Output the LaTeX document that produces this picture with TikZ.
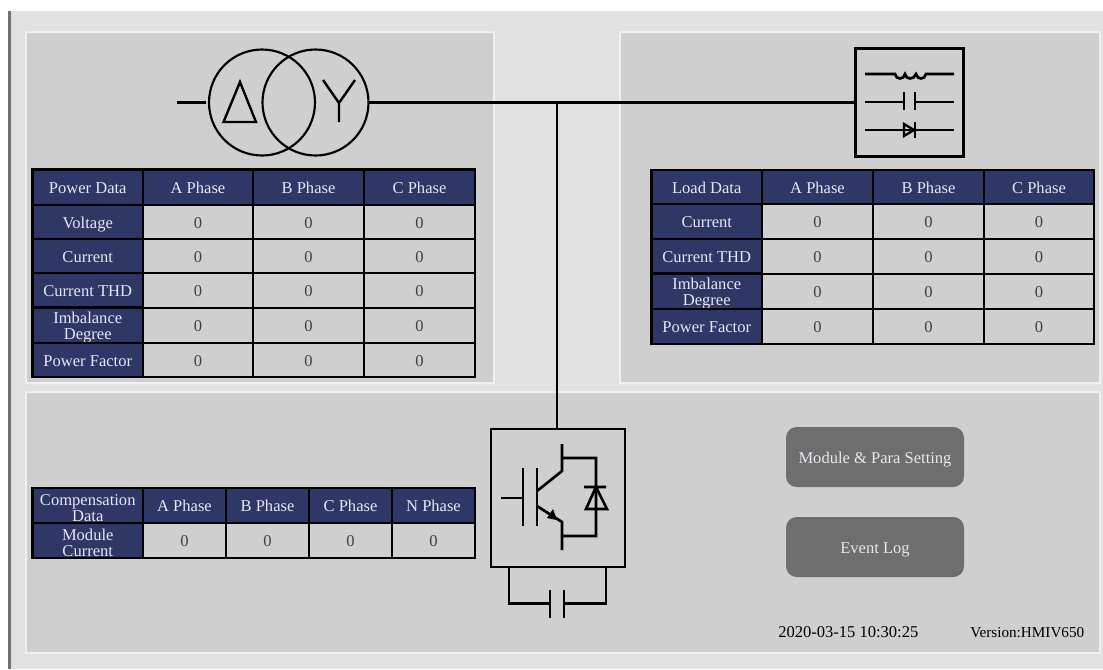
\documentclass[tikz,border=0pt]{standalone}
\usepackage{fontspec}
\setmainfont{Liberation Serif}
\usetikzlibrary{shapes.geometric}
\definecolor{pagebg}{HTML}{E1E1E1}
\definecolor{panelbg}{HTML}{CFCFCF}
\definecolor{panelline}{HTML}{F0F0F0}
\definecolor{headbg}{HTML}{2F3767}
\definecolor{headtxt}{HTML}{E6E8F0}
\definecolor{valtxt}{HTML}{404040}
\definecolor{btnbg}{HTML}{6E6E6E}
\definecolor{barcol}{HTML}{707070}
\newcommand{\pxfont}{\fontsize{12.4pt}{12pt}\selectfont}
\newcommand{\lowstrut}{\rule{0pt}{12.2pt}\vphantom{g}}
\tikzset{
  panelbox/.style={fill=panelbg,draw=panelline,line width=1.2pt},
  cellbase/.style={draw=black,line width=2pt,inner sep=0pt,outer sep=0pt,align=center,font=\pxfont},
  headcell/.style={cellbase,fill=headbg,text=headtxt},
  valcell/.style={cellbase,fill=panelbg,text=valtxt},
  sym/.style={draw=black,line width=2pt,line join=miter},
  wire/.style={draw=black,line width=2.1pt},
  symbox/.style={draw=black,line width=2pt,fill=none,inner sep=0pt,outer sep=0pt},
  coil/.style={draw=black,line width=1.6pt,circle,inner sep=0pt,outer sep=0pt,minimum size=79.5pt},
  btn/.style={fill=btnbg,rounded corners=8pt,text=headtxt,font=\pxfont,inner sep=0pt,minimum width=133.5pt,minimum height=45pt},
  plain/.style={font=\pxfont,text=black,inner sep=0pt}
}
\newcommand{\hc}[6]{\pgfmathsetmacro\cw{(#3-#2)*0.75}\pgfmathsetmacro\ch{(#5-#4)*0.75}%
  \node[headcell,minimum width=\cw pt,minimum height=\ch pt] (#1) at ({(#2+#3)/2},{(#4+#5)/2}) {\lowstrut#6};}
\newcommand{\vc}[6]{\pgfmathsetmacro\cw{(#3-#2)*0.75}\pgfmathsetmacro\ch{(#5-#4)*0.75}%
  \node[valcell,minimum width=\cw pt,minimum height=\ch pt] (#1) at ({(#2+#3)/2},{(#4+#5)/2}) {\lowstrut#6};}
\begin{document}
\begin{tikzpicture}[x=0.75pt,y=-0.75pt]
\useasboundingbox (0,0) rectangle (1103,669);
\fill[white] (0,0) rectangle (1103,669);
\fill[pagebg] (9,11) rectangle (1103,669);
\fill[barcol] (8,11) rectangle (11,669);
% panels
\draw[panelbox] (26,32) rectangle (494,383);
\draw[panelbox] (620,32) rectangle (1100,383);
\draw[panelbox] (26,392) rectangle (1100,653);

% power table
\foreach \nm/\xl/\xr/\txt in {a/143/253/A Phase,b/253/364/B Phase,c/364/475/C Phase}
  {\hc{ph\nm}{\xl}{\xr}{169.5}{205}{\txt}}
\hc{ph0}{32.5}{143}{169.5}{205}{Power Data}
\foreach \nm/\yt/\yb/\txt in {1/205/239/Voltage,2/239/273/Current,3/273/308/Current THD,4/308/343/{Imbalance\\Degree},5/343/377/Power Factor}{
  \hc{pr\nm}{32.5}{143}{\yt}{\yb}{\txt}
  \vc{pr\nm a}{143}{253}{\yt}{\yb}{0}
  \vc{pr\nm b}{253}{364}{\yt}{\yb}{0}
  \vc{pr\nm c}{364}{475}{\yt}{\yb}{0}
}
% load table
\foreach \nm/\xl/\xr/\txt in {a/762/873/A Phase,b/873/984/B Phase,c/984/1094/C Phase}
  {\hc{lh\nm}{\xl}{\xr}{170}{204}{\txt}}
\hc{lh0}{651.5}{762}{170}{204}{Load Data}
\foreach \nm/\yt/\yb/\txt in {1/204/239/Current,2/239/274/Current THD,3/274/309/{Imbalance\\Degree},4/309/344/Power Factor}{
  \hc{lr\nm}{651.5}{762}{\yt}{\yb}{\txt}
  \vc{lr\nm a}{762}{873}{\yt}{\yb}{0}
  \vc{lr\nm b}{873}{984}{\yt}{\yb}{0}
  \vc{lr\nm c}{984}{1094}{\yt}{\yb}{0}
}
% compensation table
\hc{ch0}{32.5}{143}{488}{523}{Compensation\\Data}
\foreach \nm/\xl/\xr/\txt in {a/143/226/A Phase,b/226/309/B Phase,c/309/392/C Phase,n/392/475/N Phase}{
  \hc{ch\nm}{\xl}{\xr}{488}{523}{\txt}
  \vc{cr\nm}{\xl}{\xr}{523}{558}{0}
}
\hc{cr0}{32.5}{143}{523}{558}{Module\\Current}

% transformer
\node[coil] (delta) at (262,102.5) {};
\node[coil] (star) at (315.5,102.5) {};
\coordinate (feed) at (177,102.5);
\draw[wire,shorten >=2.5pt] (feed) -- (delta.west);
\draw[sym,line width=1.8pt] (240,82) -- (223.5,122) -- (256,122) -- cycle;
\draw[sym,line width=1.8pt] (323,80) -- (339,103) -- (355,80) (339,103) -- (339,122);

% load box
\node[symbox,minimum width=81pt,minimum height=81pt] (load) at (909.5,102.5) {};
\draw[wire] (star.east) -- (load.west);
\coordinate (junction) at (557,102.5);
% igbt box
\node[symbox,minimum width=100.5pt,minimum height=103.5pt] (igbt) at (558,498) {};
\draw[wire] (junction) -- (igbt.north -| junction);

% load symbols
\draw[sym] (865,74) -- (895,74) .. controls (896,80) and (904,80) .. (905,74)
  .. controls (906,80) and (914,80) .. (916,74) .. controls (917,80) and (925,80) .. (926,74) -- (954,74);
\draw[sym] (865,102) -- (904,102) (915,102) -- (954,102) (904,92) -- (904,110) (915,92) -- (915,110);
\draw[sym] (865,130) -- (954,130) (915,122) -- (915,138);
\draw[sym,line width=1.7pt] (904,124) -- (904,136) -- (914,130) -- cycle;

% igbt symbol
\draw[sym] (501,498) -- (523,498) (523,468) -- (523,526) (537,468) -- (537,526);
\draw[sym] (537,491) -- (562,471) -- (562,444) (562,458) -- (596,458) -- (596,536) -- (562,536);
\draw[sym] (537,506) -- (562,522) -- (562,550);
\fill[black] (557,520) -- (547,518) -- (553,509) -- cycle;
\draw[sym] (584,487) -- (606,487) (596,487) -- (586,509) -- (607,509) -- cycle;
% dc capacitor
\draw[sym] (509,567) -- (509,603.5) -- (550,603.5) (550,590) -- (550,618) (564,590) -- (564,618)
  (564,603.5) -- (606,603.5) -- (606,567);

% buttons
\node[btn] (setting) at (875,457) {\lowstrut Module \& Para Setting};
\node[btn] (eventlog) at (875,547) {\lowstrut Event Log};
\node[plain,anchor=west] (clock) at (778,632) {2020-03-15 10:30:25};
\node[plain,anchor=west,font=\fontsize{11.4pt}{12pt}\selectfont] (version) at (970,633) {Version:HMIV650};
\end{tikzpicture}
\end{document}
